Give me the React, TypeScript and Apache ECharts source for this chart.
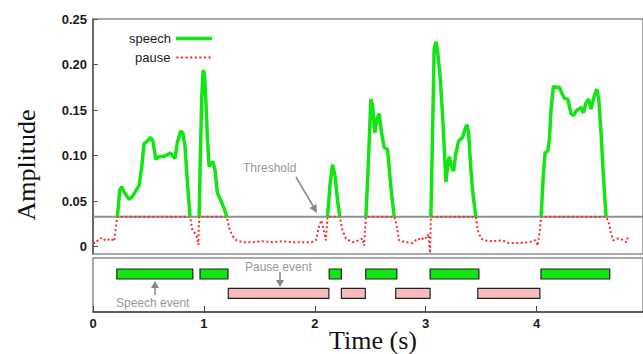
import React, { useEffect, useRef } from "react";
import * as echarts from "echarts";

const THRESHOLD = 0.033;
const Y_TICKS = [0, 0.05, 0.1, 0.15, 0.2, 0.25];
const X_TICKS = [0, 1, 2, 3, 4];
const X_MAX = 4.96;

const SPEECH_SEG1 = [
  [0.22, 0.033], [0.241, 0.062], [0.259, 0.066], [0.28, 0.06], [0.325, 0.052], [0.355, 0.055],
  [0.385, 0.061], [0.415, 0.067], [0.44, 0.088], [0.46, 0.113], [0.49, 0.116], [0.52, 0.12],
  [0.54, 0.116], [0.566, 0.096], [0.596, 0.099], [0.64, 0.099], [0.67, 0.101], [0.7, 0.103],
  [0.722, 0.099], [0.74, 0.097], [0.76, 0.114], [0.79, 0.127], [0.81, 0.125], [0.83, 0.11],
  [0.85, 0.073], [0.875, 0.033],
];
const SPEECH_SEG2 = [
  [0.957, 0.033], [0.966, 0.088], [0.98, 0.162], [0.993, 0.194], [1.005, 0.19], [1.017, 0.162],
  [1.032, 0.118], [1.047, 0.088], [1.068, 0.092], [1.083, 0.093], [1.1, 0.084], [1.122, 0.059],
  [1.152, 0.051], [1.182, 0.042], [1.206, 0.033],
];
const SPEECH_SEG3 = [
  [2.115, 0.033], [2.136, 0.066], [2.16, 0.09], [2.184, 0.077], [2.205, 0.051], [2.226, 0.033],
];
const SPEECH_SEG4 = [
  [2.461, 0.033], [2.482, 0.088], [2.506, 0.162], [2.521, 0.155], [2.542, 0.125], [2.56, 0.14],
  [2.581, 0.146], [2.602, 0.125], [2.626, 0.109], [2.656, 0.107], [2.686, 0.066], [2.716, 0.033],
];
const SPEECH_SEG5 = [
  [3.047, 0.033], [3.062, 0.125], [3.077, 0.218], [3.093, 0.225], [3.108, 0.214], [3.129, 0.188],
  [3.153, 0.144], [3.183, 0.071], [3.198, 0.088], [3.213, 0.099], [3.234, 0.088], [3.252, 0.083],
  [3.273, 0.103], [3.297, 0.116], [3.333, 0.12], [3.354, 0.129], [3.372, 0.134], [3.387, 0.125],
  [3.408, 0.084], [3.429, 0.055], [3.453, 0.033],
];
const SPEECH_SEG6 = [
  [4.041, 0.033], [4.062, 0.081], [4.077, 0.103], [4.101, 0.105], [4.116, 0.118], [4.131, 0.151],
  [4.152, 0.176], [4.176, 0.175], [4.206, 0.175], [4.23, 0.168], [4.251, 0.163], [4.281, 0.162],
  [4.311, 0.146], [4.335, 0.144], [4.356, 0.149], [4.38, 0.151], [4.401, 0.153], [4.422, 0.147],
  [4.446, 0.158], [4.47, 0.162], [4.491, 0.151], [4.522, 0.166], [4.543, 0.173], [4.561, 0.162],
  [4.582, 0.125], [4.603, 0.077], [4.627, 0.033],
];

const PAUSE = [
  [0.0, 0.004], [0.024, 0.004], [0.05, 0.008], [0.084, 0.01], [0.11, 0.007], [0.13, 0.007],
  [0.16, 0.009], [0.19, 0.006], [0.205, 0.02], [0.22, 0.033], [0.875, 0.033], [0.896, 0.018],
  [0.927, 0.014], [0.94, 0.009], [0.95, 0.002], [0.957, 0.033], [1.206, 0.033], [1.227, 0.021],
  [1.257, 0.012], [1.294, 0.007], [1.348, 0.005], [1.438, 0.005], [1.528, 0.006], [1.619, 0.005],
  [1.709, 0.006], [1.799, 0.005], [1.889, 0.005], [1.97, 0.005], [2.01, 0.007], [2.04, 0.023],
  [2.06, 0.029], [2.08, 0.018], [2.1, 0.007], [2.115, 0.033], [2.226, 0.033], [2.25, 0.018],
  [2.28, 0.009], [2.34, 0.005], [2.4, 0.007], [2.43, 0.009], [2.445, 0.001], [2.461, 0.033],
  [2.716, 0.033], [2.73, 0.029], [2.76, 0.007], [2.82, 0.005], [2.88, 0.004], [2.93, 0.009],
  [2.96, 0.007], [2.99, 0.011], [3.01, 0.009], [3.025, 0.014], [3.04, -0.007], [3.047, 0.033],
  [3.453, 0.033], [3.47, 0.018], [3.5, 0.009], [3.53, 0.007], [3.6, 0.006], [3.69, 0.007],
  [3.75, 0.004], [3.84, 0.004], [3.93, 0.005], [3.99, 0.007], [4.01, 0.001], [4.03, 0.018],
  [4.041, 0.033], [4.627, 0.033], [4.65, 0.027], [4.67, 0.016], [4.69, 0.007], [4.73, 0.009],
  [4.77, 0.008], [4.81, 0.005], [4.83, 0.013],
];

const SPEECH_EVENTS = [
  [0.215, 0.9], [0.965, 1.217], [2.13, 2.24], [2.46, 2.74], [3.04, 3.48], [4.04, 4.66],
];
const PAUSE_EVENTS = [
  [1.22, 2.127], [2.24, 2.456], [2.73, 3.04], [3.47, 4.03],
];

const SPEECH_ROW = 0.704;
const PAUSE_ROW = 0.346;

function joinSegments(segs: number[][][]) {
  const out: any[] = [];
  segs.forEach((s, i) => {
    if (i > 0) out.push([s[0][0] - 0.001, "-"]);
    s.forEach((p) => out.push(p));
  });
  return out;
}

function dottedIconPath() {
  let d = "path://";
  for (let i = 0; i < 8; i++) {
    const x = i * 4.6;
    d += `M${x},0h2.2v2.2h-2.2z`;
  }
  return d;
}

export default function App() {
  const ref = useRef<HTMLDivElement>(null);
  useEffect(() => {
    if (!ref.current) return;
    const chart = echarts.init(ref.current, undefined, { renderer: "svg" });
    const gray = "#8c8c8c";
    const green = "#12e612";
    const red = "#ff2a2a";
    const labelStyle = { fontFamily: "Arial, 'Liberation Sans'", fontWeight: "bold" as const, fontSize: 13, color: "#1a1a1a" };
    const renderEvent = (fill: string) => (params: any, api: any) => {
      const s = api.value(0);
      const e = api.value(1);
      const row = api.value(2);
      const p0 = api.coord([s, row]);
      const p1 = api.coord([e, row]);
      const h = 10;
      return {
        type: "rect",
        shape: { x: p0[0], y: p0[1] - h / 2, width: p1[0] - p0[0], height: h },
        style: { fill, stroke: "#222", lineWidth: 1.2 },
      };
    };
    const legendText = { fontSize: 13, color: "#222", fontFamily: "Arial, 'Liberation Sans'" };
    chart.setOption({
      animation: false,
      backgroundColor: "#fff",
      grid: [
        { left: 93, top: 19, right: 0, height: 235, show: true, borderColor: gray, borderWidth: 1.5 },
        { left: 93, top: 258, right: 0, height: 54, show: true, borderColor: gray, borderWidth: 1.5 },
      ],
      legend: [
        {
          data: [{ name: "speech", icon: "path://M0,0H36V3.5H0Z" }], left: 124, top: 27, align: "right",
          itemWidth: 36, itemHeight: 3.5, textStyle: legendText,
        },
        {
          data: [{ name: "pause", icon: dottedIconPath() }], left: 130, top: 46, align: "right",
          itemWidth: 36, itemHeight: 2.2, textStyle: legendText,
        },
      ],
      xAxis: [
        {
          gridIndex: 0, type: "value", min: 0, max: X_MAX,
          axisLine: { show: false }, axisTick: { show: false }, axisLabel: { show: false }, splitLine: { show: false },
        },
        {
          gridIndex: 1, type: "value", min: 0, max: X_MAX,
          axisLine: { show: true, lineStyle: { color: "#444", width: 1.5 } },
          axisTick: { show: true, inside: true, length: 6, lineStyle: { color: "#444" }, customValues: X_TICKS },
          axisLabel: { ...labelStyle, margin: 5, customValues: X_TICKS, formatter: (v: number) => String(v) },
          splitLine: { show: false },
        },
      ],
      yAxis: [
        {
          gridIndex: 0, type: "value", min: -0.008, max: 0.25,
          axisLine: { show: true, lineStyle: { color: "#555", width: 1.5 } },
          axisTick: { show: true, inside: true, length: 5, lineStyle: { color: "#555" }, customValues: Y_TICKS },
          axisLabel: {
            ...labelStyle, margin: 6, customValues: Y_TICKS,
            formatter: (v: number) => (v === 0 ? "0" : v.toFixed(2)),
          },
          splitLine: { show: false },
        },
        {
          gridIndex: 1, type: "value", min: 0, max: 1, show: false, splitLine: { show: false },
        },
      ],
      series: [
        {
          name: "threshold", type: "line", xAxisIndex: 0, yAxisIndex: 0, symbol: "none", silent: true,
          data: [[0, THRESHOLD], [X_MAX, THRESHOLD]],
          lineStyle: { color: "#909090", width: 2 }, z: 2,
        },
        {
          name: "speech", type: "line", xAxisIndex: 0, yAxisIndex: 0, symbol: "none", connectNulls: false,
          data: joinSegments([SPEECH_SEG1, SPEECH_SEG2, SPEECH_SEG3, SPEECH_SEG4, SPEECH_SEG5, SPEECH_SEG6]),
          lineStyle: { color: green, width: 3.5 }, itemStyle: { color: green }, z: 4,
        },
        {
          name: "pause", type: "line", xAxisIndex: 0, yAxisIndex: 0, symbol: "none",
          data: PAUSE,
          lineStyle: { color: red, width: 2, type: [2, 2.5] }, itemStyle: { color: red }, z: 3,
        },
        {
          name: "speech events", type: "custom", xAxisIndex: 1, yAxisIndex: 1,
          renderItem: renderEvent(green),
          encode: { x: [0, 1], y: 2 },
          data: SPEECH_EVENTS.map((e) => [e[0], e[1], SPEECH_ROW]),
        },
        {
          name: "pause events", type: "custom", xAxisIndex: 1, yAxisIndex: 1,
          renderItem: renderEvent("#f8bcbc"),
          encode: { x: [0, 1], y: 2 },
          data: PAUSE_EVENTS.map((e) => [e[0], e[1], PAUSE_ROW]),
        },
      ],
      graphic: [
        {
          type: "text", x: 26, y: 165, rotation: Math.PI / 2,
          style: { text: "Amplitude", font: "26px 'Liberation Serif', 'Times New Roman', serif", fill: "#111", align: "center", verticalAlign: "middle" },
        },
        {
          type: "text", x: 373, y: 340,
          style: { text: "Time (s)", font: "26px 'Liberation Serif', 'Times New Roman', serif", fill: "#111", align: "center", verticalAlign: "middle" },
        },
        {
          type: "text", x: 243, y: 168,
          style: { text: "Threshold", font: "12px Arial, 'Liberation Sans'", fill: "#999", align: "left", verticalAlign: "middle" },
        },
        { type: "line", shape: { x1: 296, y1: 177, x2: 313, y2: 206 }, style: { stroke: "#888", lineWidth: 1.5 } },
        { type: "polygon", shape: { points: [[317, 213], [309.5, 208.1], [316.4, 204.1]] }, style: { fill: "#888" } },
        {
          type: "text", x: 245, y: 267,
          style: { text: "Pause event", font: "12px Arial, 'Liberation Sans'", fill: "#999", align: "left", verticalAlign: "middle" },
        },
        { type: "line", shape: { x1: 280, y1: 272, x2: 280, y2: 281 }, style: { stroke: "#888", lineWidth: 1.5 } },
        { type: "polygon", shape: { points: [[280, 287], [276, 280], [284, 280]] }, style: { fill: "#888" } },
        {
          type: "text", x: 116, y: 303,
          style: { text: "Speech event", font: "12px Arial, 'Liberation Sans'", fill: "#999", align: "left", verticalAlign: "middle" },
        },
        { type: "line", shape: { x1: 155, y1: 295, x2: 155, y2: 287 }, style: { stroke: "#888", lineWidth: 1.5 } },
        { type: "polygon", shape: { points: [[155, 281], [151, 288], [159, 288]] }, style: { fill: "#888" } },
      ],
    });
    return () => chart.dispose();
  }, []);
  return (
    <div
      ref={ref}
      style={{ position: "absolute", left: 0, top: 0, width: 643, height: 354, overflow: "hidden" }}
    />
  );
}
